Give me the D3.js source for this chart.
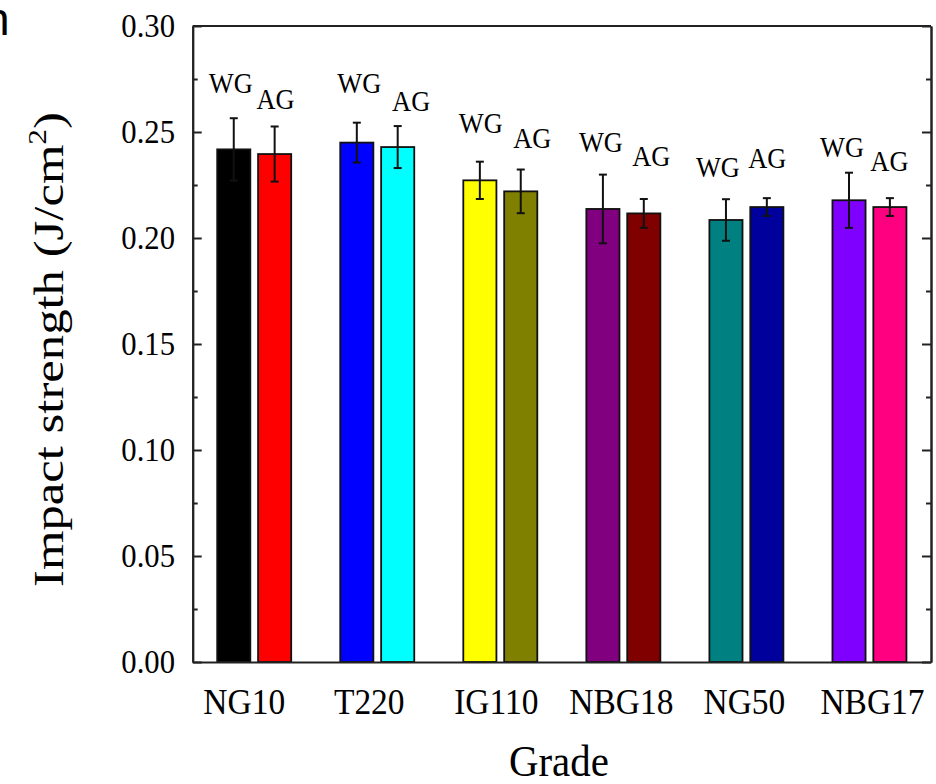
<!DOCTYPE html>
<html>
<head>
<meta charset="utf-8">
<script src="https://cdn.jsdelivr.net/npm/d3@7/dist/d3.min.js"></script>
<style>
  html, body { margin: 0; padding: 0; background: #fff; }
  svg { display: block; }
  text { font-family: "Liberation Serif", "Times New Roman", serif; fill: #000; }
  text.sans { font-family: "Liberation Sans", Arial, sans-serif; }
</style>
</head>
<body>
<svg id="chart" width="936" height="784"></svg>
<script>
// Impact strength per grade, without (WG) and with (AG) treatment
const categories = ["NG10", "T220", "IG110", "NBG18", "NG50", "NBG17"];
const seriesNames = ["WG", "AG"];
const wgValues = [0.2418, 0.2450, 0.2272, 0.2137, 0.2085, 0.2178];
const wgErrors = [0.0147, 0.0094, 0.0088, 0.0162, 0.0098, 0.0130];
const agValues = [0.2396, 0.2429, 0.2220, 0.2116, 0.2146, 0.2146];
const agErrors = [0.0130, 0.0099, 0.0103, 0.0068, 0.0042, 0.0042];
const yMajorTicks = [0, 0.05, 0.10, 0.15, 0.20, 0.25, 0.30];
const yMinorTicks = [0.025, 0.075, 0.125, 0.175, 0.225, 0.275];
const xTitle = "Grade";
const yTitle = "Impact strength (J/cm";

// Fill colours, one per bar
const wgColors = ["#000000", "#0000ff", "#ffff00", "#800080", "#008080", "#8000ff"];
const agColors = ["#ff0000", "#00ffff", "#808000", "#800000", "#00009c", "#ff0080"];

// Hand-placed series tags above each pair: [dx from bar centre in px, baseline in data units]
const wgTagPlacement = [[-3, 0.2684], [2.5, 0.2684], [1, 0.2495], [-2, 0.2406], [-8, 0.2288], [-7, 0.2382]];
const agTagPlacement = [[1, 0.2608], [13.5, 0.2599], [11.5, 0.2425], [7.5, 0.2340], [0.5, 0.2330], [-0.5, 0.2316]];
const categoryLabelDx = [-10, -8, -4, -2, -2, 3];

const svg = d3.select("#chart");
const plot = { left: 192.7, right: 931, top: 26, bottom: 662 };

const x = d3.scaleBand().domain(categories).range([plot.left, plot.right]).paddingInner(0).paddingOuter(0);
const xInner = d3.scaleBand().domain(seriesNames).range([24.5, 98.5]).paddingInner(0.19).paddingOuter(0);
const y = d3.scaleLinear().domain([0, 0.30]).range([plot.bottom, plot.top]);

// Narrow a text element horizontally around its own anchor point
function squeeze(node, kx, ky = 1) {
  const t = d3.select(node);
  const ax = +t.attr("x") || 0, ay = +t.attr("y") || 0;
  t.attr("transform", `translate(${ax},${ay}) scale(${kx},${ky}) translate(${-ax},${-ay})`);
}

const rows = categories.map((c, i) => ({
  cat: c, i,
  bars: [
    { series: "WG", value: wgValues[i], err: wgErrors[i], color: wgColors[i], tag: wgTagPlacement[i] },
    { series: "AG", value: agValues[i], err: agErrors[i], color: agColors[i], tag: agTagPlacement[i] }
  ]
}));

// Bars
const groups = svg.append("g").selectAll("g.grp").data(rows).join("g")
  .attr("class", "grp")
  .attr("transform", d => `translate(${x(d.cat)},0)`);

groups.selectAll("rect").data(d => d.bars).join("rect")
  .attr("x", d => xInner(d.series))
  .attr("width", xInner.bandwidth())
  .attr("y", d => y(d.value))
  .attr("height", d => y(0) - y(d.value))
  .attr("fill", d => d.color)
  .attr("stroke", "#111")
  .attr("stroke-width", 1.8);

// Error bars
const capHalf = 4;
const eb = groups.selectAll("g.err").data(d => d.bars).join("g").attr("class", "err")
  .attr("stroke", "#111").attr("stroke-width", 2);
eb.append("line")
  .attr("x1", d => xInner(d.series) + xInner.bandwidth() / 2)
  .attr("x2", d => xInner(d.series) + xInner.bandwidth() / 2)
  .attr("y1", d => y(d.value - d.err))
  .attr("y2", d => y(d.value + d.err));
eb.append("line")
  .attr("x1", d => xInner(d.series) + xInner.bandwidth() / 2 - capHalf)
  .attr("x2", d => xInner(d.series) + xInner.bandwidth() / 2 + capHalf)
  .attr("y1", d => y(d.value + d.err))
  .attr("y2", d => y(d.value + d.err));
eb.append("line")
  .attr("x1", d => xInner(d.series) + xInner.bandwidth() / 2 - capHalf)
  .attr("x2", d => xInner(d.series) + xInner.bandwidth() / 2 + capHalf)
  .attr("y1", d => y(d.value - d.err))
  .attr("y2", d => y(d.value - d.err));

// WG / AG tags
groups.selectAll("text.tag").data(d => d.bars).join("text")
  .attr("class", "tag")
  .attr("x", d => xInner(d.series) + xInner.bandwidth() / 2 + d.tag[0])
  .attr("y", d => y(d.tag[1]))
  .attr("text-anchor", "middle")
  .attr("font-size", 30)
  .text(d => d.series)
  .each(function () { squeeze(this, 0.88); });

// Axes: left (labelled), right (mirror), minor ticks, inward
const axisColor = "#222";
function styleAxis(g) {
  g.select(".domain").attr("stroke", axisColor).attr("stroke-width", 2);
  g.selectAll(".tick line").attr("stroke", axisColor).attr("stroke-width", 2);
}

const yAxis = svg.append("g")
  .attr("transform", `translate(${plot.left},0)`)
  .call(d3.axisLeft(y).tickValues(yMajorTicks).tickFormat(d3.format(".2f"))
    .tickSizeInner(-9).tickSizeOuter(0).tickPadding(19));
styleAxis(yAxis);
yAxis.selectAll(".tick text")
  .attr("font-size", 33)
  .attr("fill", "#000")
  .attr("transform", "scale(0.93,1)");

svg.append("g")
  .attr("transform", `translate(${plot.left},0)`)
  .call(d3.axisLeft(y).tickValues(yMinorTicks).tickFormat("").tickSizeInner(-5).tickSizeOuter(0))
  .call(styleAxis);

svg.append("g")
  .attr("transform", `translate(${plot.right},0)`)
  .call(d3.axisRight(y).tickValues(yMajorTicks).tickFormat("").tickSizeInner(-9).tickSizeOuter(0))
  .call(styleAxis);
svg.append("g")
  .attr("transform", `translate(${plot.right},0)`)
  .call(d3.axisRight(y).tickValues(yMinorTicks).tickFormat("").tickSizeInner(-5).tickSizeOuter(0))
  .call(styleAxis);

// Bottom axis (no ticks) and top frame line
const xAxis = svg.append("g")
  .attr("transform", `translate(0,${plot.bottom})`)
  .call(d3.axisBottom(x).tickSize(0).tickSizeOuter(0).tickFormat(""));
styleAxis(xAxis);
svg.append("line")
  .attr("x1", plot.left).attr("x2", plot.right)
  .attr("y1", plot.top).attr("y2", plot.top)
  .attr("stroke", axisColor).attr("stroke-width", 2);

// Category labels
svg.append("g").selectAll("text").data(categories).join("text")
  .attr("x", (d, i) => x(d) + x.bandwidth() / 2 + categoryLabelDx[i])
  .attr("y", 714)
  .attr("text-anchor", "middle")
  .attr("font-size", 36)
  .text(d => d)
  .each(function () { squeeze(this, 0.93); });

// Axis titles
svg.append("text")
  .attr("x", (plot.left + plot.right) / 2 - 3)
  .attr("y", 776)
  .attr("text-anchor", "middle")
  .attr("font-size", 44)
  .text(xTitle)
  .each(function () { squeeze(this, 0.93); });

const yt = svg.append("text")
  .attr("text-anchor", "middle")
  .attr("font-size", 42);
yt.append("tspan").text(yTitle);
yt.append("tspan").attr("font-size", 26).attr("dy", -17).text("2");
yt.append("tspan").attr("dy", 17).text(")");
const natural = yt.node().getBBox().width;
const along = 475 / natural;
yt.attr("transform", `translate(63,349.5) rotate(-90) scale(${along},1)`);

// Clipped glyph at the top-left corner
svg.append("text")
  .attr("class", "sans")
  .attr("x", -16).attr("y", 35)
  .attr("font-size", 46)
  .text("n");
</script>
</body>
</html>
